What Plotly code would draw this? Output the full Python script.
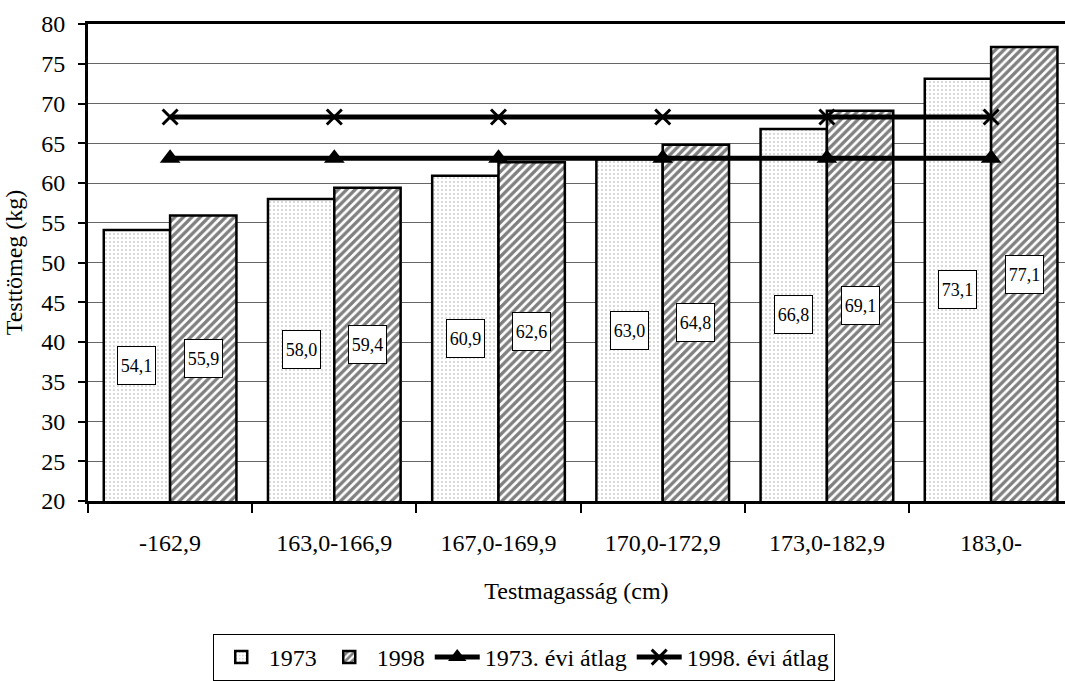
import plotly.graph_objects as go

categories = ["-162,9", "163,0-166,9", "167,0-169,9", "170,0-172,9", "173,0-182,9", "183,0-"]
values_1973 = [54.1, 58.0, 60.9, 63.0, 66.8, 73.1]
values_1998 = [55.9, 59.4, 62.6, 64.8, 69.1, 77.1]
avg_1973 = [63.1] * 6
avg_1998 = [68.3] * 6
y_ticks = list(range(20, 81, 5))

FONT = "Liberation Serif, Times New Roman, serif"
FS = 24
BARGAP = 0.192
Y_MIN = 20

fig = go.Figure()
fig.add_trace(go.Bar(
    x=categories, y=values_1973, name="1973",
    marker=dict(color="white", line=dict(color="black", width=2.5),
                pattern=dict(shape=".", fgcolor="#999999", bgcolor="white", size=4, solidity=0.2)),
))
fig.add_trace(go.Bar(
    x=categories, y=values_1998, name="1998",
    marker=dict(color="white", line=dict(color="black", width=2.5),
                pattern=dict(shape="/", fgcolor="black", bgcolor="white", size=6, solidity=0.55)),
))
fig.add_trace(go.Scatter(
    x=categories, y=avg_1973, name="1973. évi átlag", mode="lines+markers",
    line=dict(color="black", width=5),
    marker=dict(symbol="triangle-up", size=18, color="black"),
))
fig.add_trace(go.Scatter(
    x=categories, y=avg_1998, name="1998. évi átlag", mode="lines+markers",
    line=dict(color="black", width=5),
    marker=dict(symbol="x-thin", size=15, color="black", line=dict(color="black", width=3)),
))

offset = (1 - BARGAP) / 4
annotations = []
for i, (a, b) in enumerate(zip(values_1973, values_1998)):
    for xo, v in ((-offset, a), (offset, b)):
        annotations.append(dict(
            x=i + xo, y=(Y_MIN + v) / 2, xref="x", yref="y",
            text=f"{v:.1f}".replace(".", ","), showarrow=False,
            font=dict(family=FONT, size=18, color="black"),
            bgcolor="white", bordercolor="black", borderwidth=1,
            width=35, height=35, borderpad=1,
        ))

fig.update_layout(
    width=1065, height=681,
    margin=dict(l=88, r=0, t=24, b=175),
    paper_bgcolor="white", plot_bgcolor="white",
    font=dict(family=FONT, size=FS, color="black"),
    barmode="group", bargap=BARGAP, bargroupgap=0,
    showlegend=True,
    legend=dict(orientation="h", x=0.446, xanchor="center", y=-0.28, yanchor="top",
                bordercolor="black", borderwidth=1, bgcolor="white",
                font=dict(family=FONT, size=FS, color="black"),
                itemwidth=45, tracegroupgap=0),
    annotations=annotations,
)
fig.update_xaxes(
    type="category", range=[-0.5, 5.45], tickson="boundaries",
    ticks="outside", ticklen=9, tickwidth=1.5, tickcolor="black",
    showline=True, linewidth=3, linecolor="black", mirror=True,
    showgrid=False, automargin=False, ticklabelstandoff=18,
    tickfont=dict(family=FONT, size=FS, color="black"),
    title=dict(text="Testmagasság (cm)", standoff=28, font=dict(family=FONT, size=FS, color="black")),
)
fig.update_yaxes(
    range=[20, 80], tickvals=y_ticks, ticks="outside", ticklen=7, tickwidth=1.5, tickcolor="black",
    showline=True, linewidth=3, linecolor="black",
    showgrid=True, gridcolor="#666666", gridwidth=1, zeroline=False,
    automargin=False, ticklabelstandoff=8,
    tickfont=dict(family=FONT, size=FS, color="black"),
    title=dict(text="Testtömeg (kg)", standoff=12, font=dict(family=FONT, size=FS, color="black")),
)

fig.write_html("out.html")
